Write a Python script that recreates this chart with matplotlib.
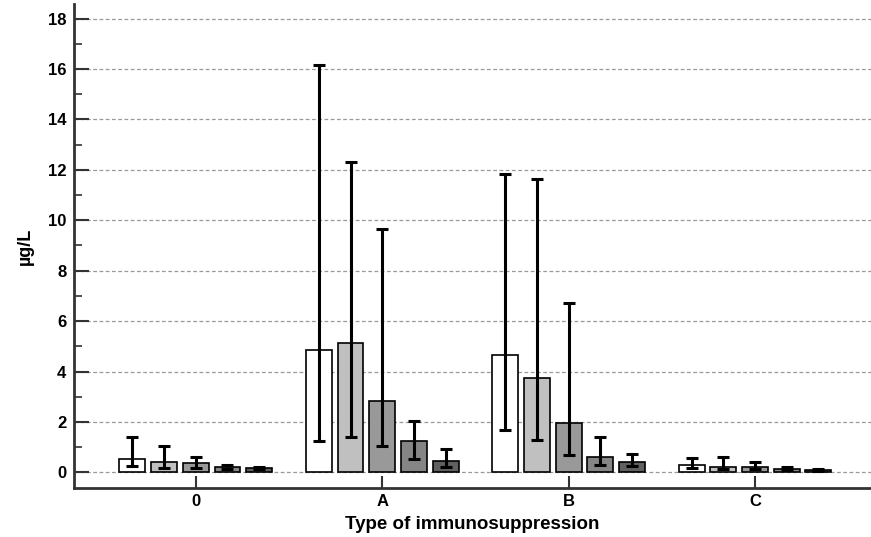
import numpy as np
import matplotlib
matplotlib.use("Agg")
import matplotlib.pyplot as plt
from matplotlib.ticker import MultipleLocator

groups = ["0", "A", "B", "C"]
bar_colors = ["#ffffff", "#c0c0c0", "#999999", "#858585", "#606060"]

# bar heights per group (5 bars each)
means_0 = [0.52, 0.43, 0.37, 0.21, 0.16]
means_A = [4.87, 5.14, 2.85, 1.25, 0.47]
means_B = [4.64, 3.76, 1.94, 0.61, 0.40]
means_C = [0.30, 0.20, 0.20, 0.14, 0.10]

# lower / upper ends of the error bars
low_0 = [0.25, 0.16, 0.16, 0.15, 0.12]
high_0 = [1.41, 1.04, 0.63, 0.31, 0.20]
low_A = [1.25, 1.40, 1.03, 0.52, 0.20]
high_A = [16.15, 12.31, 9.67, 2.02, 0.94]
low_B = [1.68, 1.28, 0.70, 0.29, 0.24]
high_B = [11.85, 11.64, 6.70, 1.42, 0.71]
low_C = [0.17, 0.12, 0.12, 0.10, 0.07]
high_C = [0.57, 0.63, 0.41, 0.20, 0.13]

means = np.array([means_0, means_A, means_B, means_C])
lows = np.array([low_0, low_A, low_B, low_C])
highs = np.array([high_0, high_A, high_B, high_C])

plt.rcParams['font.family'] = ['Liberation Sans', 'DejaVu Sans']
plt.rcParams['font.weight'] = 'bold'

fig = plt.figure(figsize=(8.71, 5.37), dpi=100)
ax = fig.add_axes([0.085, 0.0912, 0.915, 0.9014])

x = np.arange(len(groups))
step = 0.170
width = 0.139
for i in range(5):
    xs = x + (i - 2) * step
    ax.bar(xs, means[:, i], width=width, color=bar_colors[i],
           edgecolor="black", linewidth=1.2, zorder=3)
    yerr = [means[:, i] - lows[:, i], highs[:, i] - means[:, i]]
    ax.errorbar(xs, means[:, i], yerr=yerr, fmt="none", ecolor="black",
                elinewidth=2.2, capsize=4.5, capthick=2.2, zorder=4)

ax.set_xlim(-0.653, 3.622)
ax.set_ylim(-0.62, 18.58)
ax.set_xticks(x)
ax.set_xticklabels(groups)
ax.yaxis.set_major_locator(MultipleLocator(2))
ax.yaxis.set_minor_locator(MultipleLocator(1))

ax.grid(axis="y", which="major", linestyle=(0, (3, 2)), color="#999999",
        linewidth=0.9, zorder=0)
ax.set_axisbelow(True)

for side in ["top", "right"]:
    ax.spines[side].set_visible(False)
for side in ["left", "bottom"]:
    ax.spines[side].set_linewidth(2.0)
    ax.spines[side].set_color("#333333")

ax.tick_params(axis="y", which="major", direction="in", length=11, width=1.5,
               color="#333333", labelsize=12, pad=5.5)
ax.tick_params(axis="y", which="minor", direction="in", length=6, width=1.2,
               color="#333333")
ax.tick_params(axis="x", which="major", direction="in", length=9, width=1.5,
               color="#333333", labelsize=12, pad=4)

ax.set_ylabel("µg/L", fontsize=13, fontweight="bold", labelpad=10)
ax.set_xlabel("Type of immunosuppression", fontsize=13.5, fontweight="bold",
              labelpad=5)

fig.savefig("out.png", dpi=100)
